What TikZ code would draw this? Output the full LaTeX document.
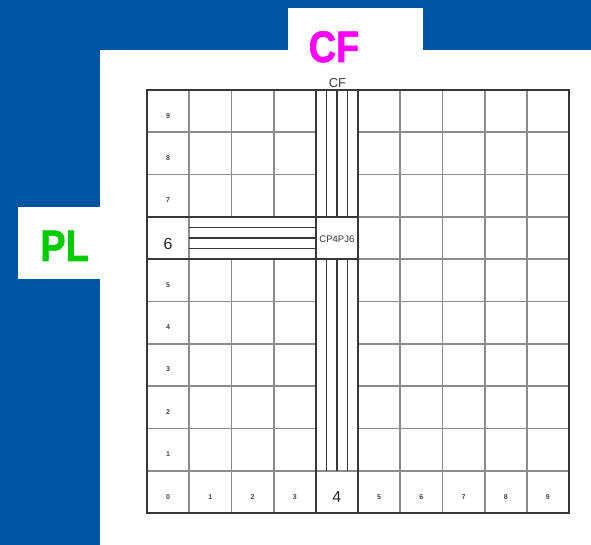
\documentclass[tikz,border=0pt]{standalone}
\usepackage{fontspec}
\usepackage{graphicx}
\setmainfont{Liberation Sans}
\newfontfamily\titlefont[FakeBold=1.6]{Liberation Sans Bold}
\definecolor{bgblue}{RGB}{0,84,164}
\definecolor{cfmag}{RGB}{255,0,255}
\definecolor{plgreen}{RGB}{0,204,0}
\definecolor{gline}{RGB}{140,140,140}
\definecolor{dline}{RGB}{55,55,55}
\tikzset{
  gl/.style={draw=gline, line width=1.8pt},
  dl/.style={draw=dline, line width=1.7pt},
  big/.style={font=\titlefont\fontsize{44}{44}\selectfont, inner sep=0pt, anchor=base},
  smallnum/.style={font=\bfseries\fontsize{7}{7}\selectfont, text=black!75, inner sep=0pt},
  bignum/.style={font=\fontsize{16}{16}\selectfont, inner sep=0pt, text=black!85},
}
\begin{document}
\begin{tikzpicture}[x=1pt,y=-1pt]
\useasboundingbox (0,0) rectangle (591,545);
% background
\fill[bgblue] (0,0) rectangle (591,545);
\fill[white] (100,50) rectangle (591,545);
\fill[white] (288,8) rectangle (423,50);
\fill[white] (18,207) rectangle (100,279);
\node[big, text=cfmag] (cftitle) at (334,62) {\scalebox{0.86}[1]{CF}};
\node[big, text=plgreen] (pltitle) at (64.5,261) {\scalebox{0.86}[1]{PL}};
% small CF label, top clipped
\begin{scope}
\clip (300,78) rectangle (380,95);
\node[font=\fontsize{13}{13}\selectfont, inner sep=0pt, anchor=base, text=black!75] (cfsmall) at (337.5,88) {CF};
\end{scope}
% grid geometry
\def\gx{147}\def\gy{90}\def\cw{42.2}\def\rh{42.3}
% gray vertical lines
\foreach \i in {1,6,7,8,9}{
  \draw[gl] ({\gx+\i*\cw},\gy) -- ({\gx+\i*\cw},{\gy+10*\rh});
}
\foreach \i in {2,3}{
  \draw[gl] ({\gx+\i*\cw},\gy) -- ({\gx+\i*\cw},{\gy+3*\rh});
  \draw[gl] ({\gx+\i*\cw},{\gy+4*\rh}) -- ({\gx+\i*\cw},{\gy+10*\rh});
}
% gray horizontal lines
\foreach \j in {1,2,5,6,7,8}{
  \draw[gl] (\gx,{\gy+\j*\rh}) -- ({\gx+4*\cw},{\gy+\j*\rh});
  \draw[gl] ({\gx+5*\cw},{\gy+\j*\rh}) -- ({\gx+10*\cw},{\gy+\j*\rh});
}
\foreach \j in {3,4}{
  \draw[gl] ({\gx+5*\cw},{\gy+\j*\rh}) -- ({\gx+10*\cw},{\gy+\j*\rh});
  \draw[dl] (\gx,{\gy+\j*\rh}) -- ({\gx+5*\cw},{\gy+\j*\rh});
}
\draw[gl] (\gx,{\gy+9*\rh}) -- ({\gx+10*\cw},{\gy+9*\rh});
% column 4 borders and strips
\foreach \i in {4,5}{
  \draw[dl] ({\gx+\i*\cw},\gy) -- ({\gx+\i*\cw},{\gy+10*\rh});
}
\foreach \k in {1,2,3}{
  \draw[dl] ({\gx+4*\cw+\k*\cw/4},\gy) -- ({\gx+4*\cw+\k*\cw/4},{\gy+3*\rh});
  \draw[dl] ({\gx+4*\cw+\k*\cw/4},{\gy+4*\rh}) -- ({\gx+4*\cw+\k*\cw/4},{\gy+9*\rh});
  \draw[dl] ({\gx+\cw},{\gy+3*\rh+\k*\rh/4}) -- ({\gx+4*\cw},{\gy+3*\rh+\k*\rh/4});
}
% outer border
\draw[dl] (\gx,\gy) rectangle ({\gx+10*\cw},{\gy+10*\rh});
% row labels
\foreach \r in {9,8,7,5,4,3,2,1}{
  \node[smallnum] (row\r) at ({\gx+\cw/2},{\gy+(9-\r)*\rh+\rh/2+4.5}) {\r};
}
\node[bignum] (row6) at ({\gx+\cw/2},{\gy+3*\rh+\rh/2+5.5}) {6};
% column labels
\foreach \c in {0,1,2,3,5,6,7,8,9}{
  \node[smallnum] (col\c) at ({\gx+\c*\cw+\cw/2},{\gy+9*\rh+\rh/2+5}) {\c};
}
\node[bignum] (col4) at ({\gx+4*\cw+\cw/2},{\gy+9*\rh+\rh/2+5.5}) {4};
% centre cell
\node[font=\fontsize{9.5}{10}\selectfont, inner sep=0pt, text=black!80] (centre) at ({\gx+4*\cw+\cw/2},{\gy+3*\rh+\rh/2+1}) {CP4PJ6};
\end{tikzpicture}
\end{document}
